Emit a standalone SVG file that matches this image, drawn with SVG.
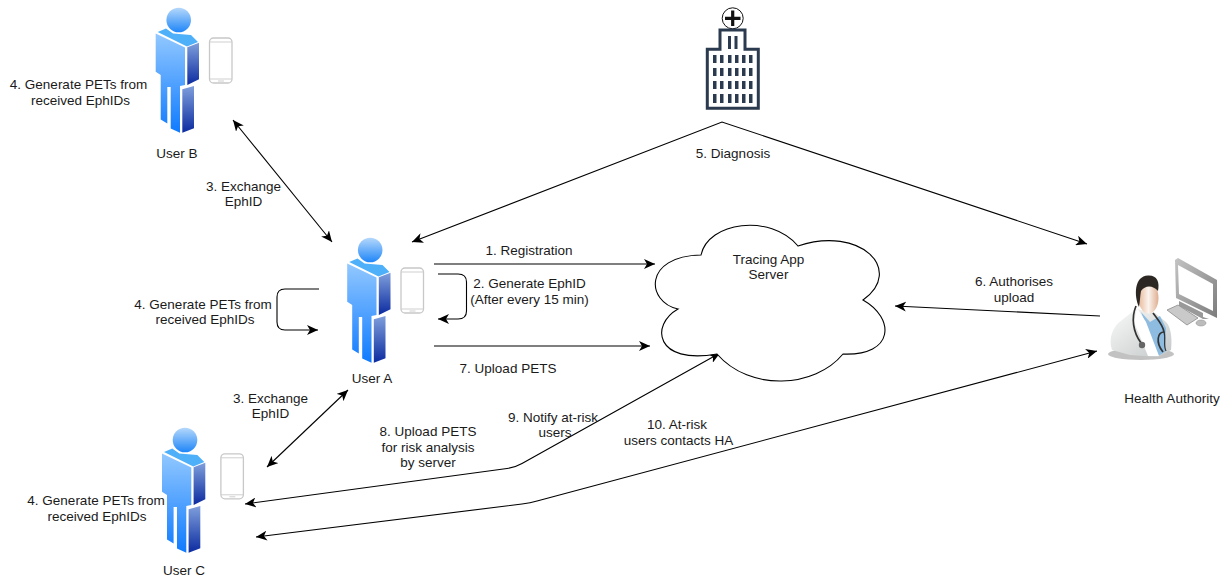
<svg xmlns="http://www.w3.org/2000/svg" width="1225" height="578" viewBox="0 0 1225 578">
<style>
text{font-family:"Liberation Sans",Arial,sans-serif;font-size:13.500px;fill:#1a1a1a;text-anchor:middle}
.c{fill:none;stroke:#000;stroke-width:1.100}
.ph{fill:#fff;stroke:#c8c8c8;stroke-width:1.300}
.phl{fill:none;stroke:#cfcfcf;stroke-width:1}
.w{fill:#2b3a4e}
</style>
<defs>
<marker id="a" viewBox="0 0 12 10" refX="11" refY="5" markerWidth="12" markerHeight="10" markerUnits="userSpaceOnUse" orient="auto-start-reverse"><path d="M0 0L11 5L0 10L3 5Z" fill="#000"/></marker>
<linearGradient id="front" x1="0" y1="0" x2="0" y2="1"><stop offset="0" stop-color="#92c8ff"/><stop offset="1" stop-color="#0f7bff"/></linearGradient>
<linearGradient id="head" x1="0" y1="0" x2="0" y2="1"><stop offset="0" stop-color="#b5d8fb"/><stop offset="1" stop-color="#1f86f8"/></linearGradient>
<linearGradient id="side" x1="0" y1="0" x2="0" y2="1"><stop offset="0" stop-color="#7f9fdc"/><stop offset="1" stop-color="#0c2ba0"/></linearGradient>
<linearGradient id="face" x1="0" y1="0" x2="1" y2="0"><stop offset="0" stop-color="#e8b999"/><stop offset=".5" stop-color="#fbf3ee"/><stop offset="1" stop-color="#dfae90"/></linearGradient>
<linearGradient id="coat" x1="0" y1="0" x2="1" y2="1"><stop offset="0" stop-color="#fafafa"/><stop offset="1" stop-color="#c4c8c8"/></linearGradient>
<linearGradient id="mon" x1="0" y1="0" x2="1" y2="1"><stop offset="0" stop-color="#c4c4c4"/><stop offset="1" stop-color="#7c7c7c"/></linearGradient>
<g id="person">
<circle cx="178.700" cy="20" r="12.300" fill="url(#head)"/>
<path d="M157.700 32L166 28.500L173 33.500L191 35L198 42L187 46.500Z" fill="#4fb0fa"/>
<path d="M155.700 33.500L185 47.500V85L180 86V132.700L170.700 128.500V87H167.300V123.500L160.700 119.500V75L155.700 71.700Z" fill="url(#front)"/>
<path d="M187.300 47.300L199 42.700V79.300L187.300 85Z" fill="url(#side)"/>
<path d="M182.300 89.300L194 86V128.300L182.300 132.700Z" fill="url(#side)"/>
</g>
<g id="phone">
<rect x="209.500" y="38" width="22.500" height="45" rx="4" class="ph"/>
<path d="M209.500 42H232M209.500 79H232M218 81H224" class="phl"/>
</g>
</defs>

<g id="connectors">
<path class="c" d="M233 120L332 242" marker-start="url(#a)" marker-end="url(#a)"/>
<path class="c" d="M412 242L722 122L1087 244" marker-start="url(#a)" marker-end="url(#a)"/>
<path class="c" d="M434 264H655" marker-end="url(#a)"/>
<path class="c" d="M438 274H458Q466.500 274 466.500 282V311Q466.500 319 458 319H438" marker-end="url(#a)"/>
<path class="c" d="M319 289H285Q277 289 277 297V322Q277 330 285 330H318" marker-end="url(#a)"/>
<path class="c" d="M434 346H650" marker-end="url(#a)"/>
<path class="c" d="M1100 316L895 306" marker-end="url(#a)"/>
<path class="c" d="M267 467L348 390" marker-start="url(#a)" marker-end="url(#a)"/>
<path class="c" d="M245 504L507 468.500Q515 467.500 522 463.500L720 353" marker-start="url(#a)" marker-end="url(#a)"/>
<path class="c" d="M256 537L522 504Q530 503 538 500.800L1097 351" marker-start="url(#a)" marker-end="url(#a)"/>
</g>

<g id="user-b"><use href="#person"/><use href="#phone"/><text x="177" y="158">User B</text></g>
<g id="user-a"><use href="#person" x="191.500" y="230"/><use href="#phone" x="191.500" y="230"/><text x="372" y="383">User A</text></g>
<g id="user-c"><use href="#person" x="6.300" y="420"/><use href="#phone" x="11.400" y="415.800"/><text x="184" y="575">User C</text></g>

<g id="hospital">
<circle cx="732.700" cy="18.300" r="10.500" fill="#fff" stroke="#111" stroke-width="1"/>
<path d="M732.700 10.500V26M725 18.300H740.500" stroke="#111" stroke-width="3.200" fill="none"/>
<path d="M720 49.300V30H745V49.300H758.300V108.300H707.300V49.300Z" fill="#fff" stroke="#2b3a4e" stroke-width="3"/>
<g class="w">
<rect x="728" y="36" width="3" height="13"/><rect x="734.500" y="36" width="3" height="13"/>
<path d="M713 55h3.500v8h-3.500zM720 55h3.500v8h-3.500zM728 55h3.500v8h-3.500zM735 55h3.500v8h-3.500zM742 55h3.500v8h-3.500zM749 55h3.500v8h-3.500z"/>
<path d="M713 68h3.500v8h-3.500zM720 68h3.500v8h-3.500zM728 68h3.500v8h-3.500zM735 68h3.500v8h-3.500zM742 68h3.500v8h-3.500zM749 68h3.500v8h-3.500z"/>
<path d="M713 81h3.500v8h-3.500zM720 81h3.500v8h-3.500zM728 81h3.500v8h-3.500zM735 81h3.500v8h-3.500zM742 81h3.500v8h-3.500zM749 81h3.500v8h-3.500z"/>
<path d="M713 94h3.500v9h-3.500zM720 94h3.500v9h-3.500zM728 94h3.500v9h-3.500zM735 94h3.500v9h-3.500zM742 94h3.500v9h-3.500zM749 94h3.500v9h-3.500z"/>
</g>
</g>

<g id="server">
<path d="M678 309C646 302 643 256 701 255C708 222 770 213 798 246C860 225 905 270 863 300C895 318 895 356 843 354C815 388 750 392 717 354C655 365 650 325 678 309Z" fill="#fff" stroke="#000" stroke-width="1.100"/>
<text x="768.500" y="264">Tracing App</text><text x="768.500" y="279">Server</text>
</g>

<g id="health-authority">
<path d="M1175 260L1178 258L1217 280V318L1176 298Z" fill="url(#mon)"/>
<path d="M1178 265L1213 284V311L1179 294Z" fill="#fff"/>
<path d="M1179 301L1203 313V317L1209 319L1203 319L1179 306Z" fill="#999"/>
<path d="M1167 310L1178 305L1198 318L1187 325Z" fill="#c9c9c9" stroke="#8a8a8a" stroke-width=".8"/>
<ellipse cx="1201" cy="323" rx="5" ry="3" fill="#bcbcbc" stroke="#888" stroke-width=".5"/>
<ellipse cx="1141" cy="354" rx="33" ry="6" fill="#9a9a9a" opacity=".6"/>
<path d="M1112 350C1108 338 1113 326 1122 320L1136 309L1155 313L1166 322C1172 328 1172 342 1171 350L1158 357L1130 355Z" fill="url(#coat)"/>
<path d="M1141 312L1150 322L1160 316L1166 328L1165 352L1158 356Z" fill="#8dbce0"/>
<path d="M1137 308L1146 322L1159 356L1148 356L1134 322Z" fill="#fff"/>
<path d="M1136 306C1131 318 1133 332 1141 343" fill="none" stroke="#333" stroke-width="1.700"/>
<path d="M1153 313C1158 320 1163 325 1164 332C1158 332 1155 342 1163 352" fill="none" stroke="#333" stroke-width="1.700"/>
<path d="M1164 332C1166 338 1163 345 1166 351" fill="none" stroke="#333" stroke-width="1.200"/>
<circle cx="1142" cy="345" r="3.200" fill="#666"/>
<ellipse cx="1148.500" cy="298" rx="10" ry="15.500" fill="url(#face)"/>
<path d="M1139 307C1134 296 1134 276 1148 275.500C1157 275 1160 282 1158 291C1153 285 1145 285 1141 291C1140 296 1140 302 1139 307Z" fill="#2c2722"/>
<text x="1172" y="403">Health Authority</text>
</g>

<g id="labels">
<text x="78.500" y="89">4. Generate PETs from</text><text x="80.500" y="105">received EphIDs</text>
<text x="243.500" y="191">3. Exchange</text><text x="243.500" y="206">EphID</text>
<text x="203" y="309">4. Generate PETs from</text><text x="205" y="324">received EphIDs</text>
<text x="270.500" y="403">3. Exchange</text><text x="270.500" y="418">EphID</text>
<text x="96" y="505">4. Generate PETs from</text><text x="97" y="521">received EphIDs</text>
<text x="529" y="255">1. Registration</text>
<text x="529.500" y="288">2. Generate EphID</text><text x="529.500" y="304">(After every 15 min)</text>
<text x="508" y="373">7. Upload PETS</text>
<text x="733" y="158">5. Diagnosis</text>
<text x="1014" y="286">6. Authorises</text><text x="1014" y="302">upload</text>
<text x="428" y="436">8. Upload PETS</text><text x="428" y="452">for risk analysis</text><text x="428" y="467">by server</text>
<text x="553" y="421.500">9. Notify at-risk</text><text x="555" y="437">users</text>
<text x="677" y="429">10. At-risk</text><text x="678.500" y="445">users contacts HA</text>
</g>
</svg>
